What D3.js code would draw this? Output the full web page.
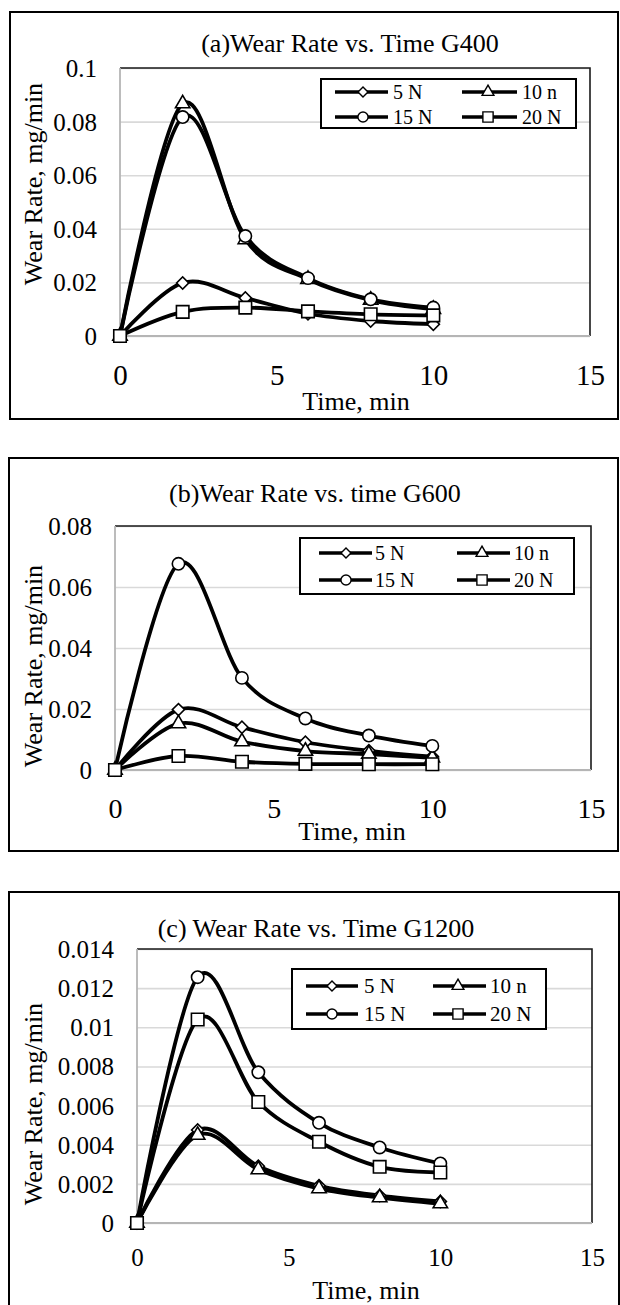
<!DOCTYPE html>
<html>
<head>
<meta charset="utf-8">
<script src="https://cdn.jsdelivr.net/npm/d3@7"></script>
<style>
  html, body { margin: 0; padding: 0; background: #fff; }
  svg { display: block; }
  text { font-family: "Liberation Serif", "Times New Roman", serif; fill: #000; }
</style>
</head>
<body>
<svg id="chart" width="620" height="1305"></svg>
<script>
// ---------------- DATA ----------------
const times = [0, 2, 4, 6, 8, 10];
const seriesNames = ["5 N", "10 n", "15 N", "20 N"];
const xTickValues = [0, 5, 10, 15];

// (a) G400
const g400_5N  = [0, 0.0198, 0.0142, 0.0083, 0.0056, 0.0044];
const g400_10n = [0, 0.0867, 0.0360, 0.0212, 0.0134, 0.0100];
const g400_15N = [0, 0.0817, 0.0373, 0.0216, 0.0137, 0.0106];
const g400_20N = [0, 0.0090, 0.0106, 0.0092, 0.0081, 0.0077];
const g400_yTicks = [0, 0.02, 0.04, 0.06, 0.08, 0.1];
const g400_yLabels = ["0", "0.02", "0.04", "0.06", "0.08", "0.1"];

// (b) G600
const g600_5N  = [0, 0.0198, 0.0140, 0.0091, 0.0063, 0.0044];
const g600_10n = [0, 0.0152, 0.0093, 0.0062, 0.0052, 0.0040];
const g600_15N = [0, 0.0676, 0.0302, 0.0169, 0.0113, 0.0079];
const g600_20N = [0, 0.0046, 0.0027, 0.0020, 0.0019, 0.0019];
const g600_yTicks = [0, 0.02, 0.04, 0.06, 0.08];
const g600_yLabels = ["0", "0.02", "0.04", "0.06", "0.08"];

// (c) G1200
const g1200_5N  = [0, 0.00475, 0.0029, 0.0019, 0.0014, 0.0011];
const g1200_10n = [0, 0.00449, 0.00273, 0.00176, 0.0013, 0.00099];
const g1200_15N = [0, 0.01256, 0.0077, 0.00512, 0.00386, 0.00304];
const g1200_20N = [0, 0.0104, 0.00618, 0.00415, 0.00287, 0.00258];
const g1200_yTicks = [0, 0.002, 0.004, 0.006, 0.008, 0.01, 0.012, 0.014];
const g1200_yLabels = ["0", "0.002", "0.004", "0.006", "0.008", "0.01", "0.012", "0.014"];

const titles = ["(a)Wear Rate vs. Time G400", "(b)Wear Rate vs. time G600", "(c) Wear Rate vs. Time G1200"];
const xTitle = "Time, min";
const yTitle = "Wear Rate, mg/min";

// ---------------- LAYOUT ----------------
const panels = [
  { series: [g400_5N, g400_10n, g400_15N, g400_20N], yTicks: g400_yTicks, yLabels: g400_yLabels, title: titles[0],
    box: [10, 12, 608, 407], plot: [120, 68, 590, 336], titleXY: [350, 52], xTickFs: 29, xTickOff: 39,
    xTitleXY: [356, 410], yTitleCY: 184,
    legend: { box: [321, 79, 576, 128], rows: [92, 117], cols: [[335, 388, 363, 393], [462, 517, 488, 522]], fs: 20 } },
  { series: [g600_5N, g600_10n, g600_15N, g600_20N], yTicks: g600_yTicks, yLabels: g600_yLabels, title: titles[1],
    box: [9, 458, 609, 393], plot: [115, 526, 591, 770], titleXY: [315, 502], xTickFs: 28, xTickOff: 38,
    xTitleXY: [352, 840], yTitleCY: 666,
    legend: { box: [300, 538, 574, 594], rows: [553, 580], cols: [[319, 372, 346, 375], [457, 510, 482, 514]], fs: 20 } },
  { series: [g1200_5N, g1200_10n, g1200_15N, g1200_20N], yTicks: g1200_yTicks, yLabels: g1200_yLabels, title: titles[2],
    box: [9, 892, 610, 460], plot: [137, 949, 592, 1223], titleXY: [316, 937], xTickFs: 25, xTickOff: 34,
    xTitleXY: [366, 1299], yTitleCY: 1104,
    legend: { box: [292, 969, 546, 1029], rows: [986, 1014], cols: [[306, 358, 332, 364], [433, 486, 458, 490]], fs: 21 } }
];

// marker shapes per series (diamond, triangle, circle, square)
function markerPath(i, s) {
  if (i === 0) return { d: d3.symbol(d3.symbolSquare, 74 * s * s)(), rot: 45 };
  if (i === 1) return { d: d3.symbol(d3.symbolTriangle, 90 * s * s)(), rot: 0 };
  if (i === 2) return { d: d3.symbol(d3.symbolCircle, 120 * s * s)(), rot: 0 };
  return { d: d3.symbol(d3.symbolSquare, 156 * s * s)(), rot: 0 };
}

const svg = d3.select("#chart");

panels.forEach((p) => {
  const g = svg.append("g");
  const [bx, by, bw, bh] = p.box;
  g.append("rect").attr("x", bx).attr("y", by).attr("width", bw).attr("height", bh)
    .attr("fill", "#fff").attr("stroke", "#000").attr("stroke-width", 2);

  const [pl, pt, pr, pb] = p.plot;
  const x = d3.scaleLinear().domain([0, 15]).range([pl, pr]);
  const y = d3.scaleLinear().domain([0, p.yTicks[p.yTicks.length - 1]]).range([pb, pt]);

  // gridlines
  const grid = g.append("g").attr("transform", `translate(${pl},0)`)
    .call(d3.axisLeft(y).tickValues(p.yTicks).tickSize(-(pr - pl)).tickFormat(""));
  grid.select(".domain").remove();
  grid.selectAll(".tick line").attr("stroke", "#d9d9d9").attr("stroke-width", 1.6);

  // plot border: top/right dark, left/bottom grey axis lines
  g.append("path").attr("d", `M${pl},${pt}H${pr}V${pb}`)
    .attr("fill", "none").attr("stroke", "#1a1a1a").attr("stroke-width", 1.6);
  g.append("path").attr("d", `M${pl},${pt}V${pb}H${pr}`)
    .attr("fill", "none").attr("stroke", "#b5b5b5").attr("stroke-width", 1.8);

  // y axis labels
  const ya = g.append("g").attr("transform", `translate(${pl},0)`)
    .call(d3.axisLeft(y).tickValues(p.yTicks).tickSize(0).tickPadding(23)
      .tickFormat((d, i) => p.yLabels[i]));
  ya.select(".domain").remove();
  ya.selectAll("text").attr("font-size", 25).attr("dy", "0.34em")
    .style("font-family", '"Liberation Serif", "Times New Roman", serif').attr("fill", "#000");

  // x axis labels
  const xa = g.append("g").attr("transform", `translate(0,${pb})`)
    .call(d3.axisBottom(x).tickValues(xTickValues).tickSize(0).tickFormat(d3.format("d")));
  xa.select(".domain").remove();
  xa.selectAll("text").attr("font-size", p.xTickFs).attr("y", p.xTickOff).attr("dy", "0.35em")
    .style("font-family", '"Liberation Serif", "Times New Roman", serif').attr("fill", "#000");

  // titles
  g.append("text").attr("x", p.titleXY[0]).attr("y", p.titleXY[1]).attr("text-anchor", "middle")
    .attr("font-size", 26).text(p.title);
  g.append("text").attr("x", p.xTitleXY[0]).attr("y", p.xTitleXY[1]).attr("text-anchor", "middle")
    .attr("font-size", 26).text(xTitle);
  g.append("text").attr("transform", `translate(42,${p.yTitleCY}) rotate(-90)`).attr("text-anchor", "middle")
    .attr("font-size", 26).text(yTitle);

  // series
  const line = d3.line().x((d, i) => x(times[i])).y(d => y(d)).curve(d3.curveCardinal.tension(0));
  p.series.forEach((vals, si) => {
    g.append("path").attr("d", line(vals)).attr("fill", "none")
      .attr("stroke", "#000").attr("stroke-width", 3.8).attr("stroke-linejoin", "round");
    const m = markerPath(si, 1);
    g.selectAll(null).data(vals).enter().append("path")
      .attr("d", m.d)
      .attr("transform", (d, i) => `translate(${x(times[i])},${y(d)}) rotate(${m.rot})`)
      .attr("fill", "#fff").attr("stroke", "#000").attr("stroke-width", 1.6);
  });

  // legend
  const L = p.legend;
  g.append("rect").attr("x", L.box[0]).attr("y", L.box[1]).attr("width", L.box[2] - L.box[0])
    .attr("height", L.box[3] - L.box[1]).attr("fill", "#fff").attr("stroke", "#000").attr("stroke-width", 2);
  seriesNames.forEach((name, si) => {
    const row = L.rows[si < 2 ? 0 : 1];
    const col = L.cols[si % 2];
    g.append("line").attr("x1", col[0]).attr("x2", col[1]).attr("y1", row).attr("y2", row)
      .attr("stroke", "#000").attr("stroke-width", 3.4);
    const m = markerPath(si, 0.82);
    g.append("path").attr("d", m.d).attr("transform", `translate(${col[2]},${row}) rotate(${m.rot})`)
      .attr("fill", "#fff").attr("stroke", "#000").attr("stroke-width", 1.4);
    g.append("text").attr("x", col[3]).attr("y", row).attr("dy", "0.35em")
      .attr("font-size", L.fs).text(name);
  });
});
</script>
</body>
</html>
